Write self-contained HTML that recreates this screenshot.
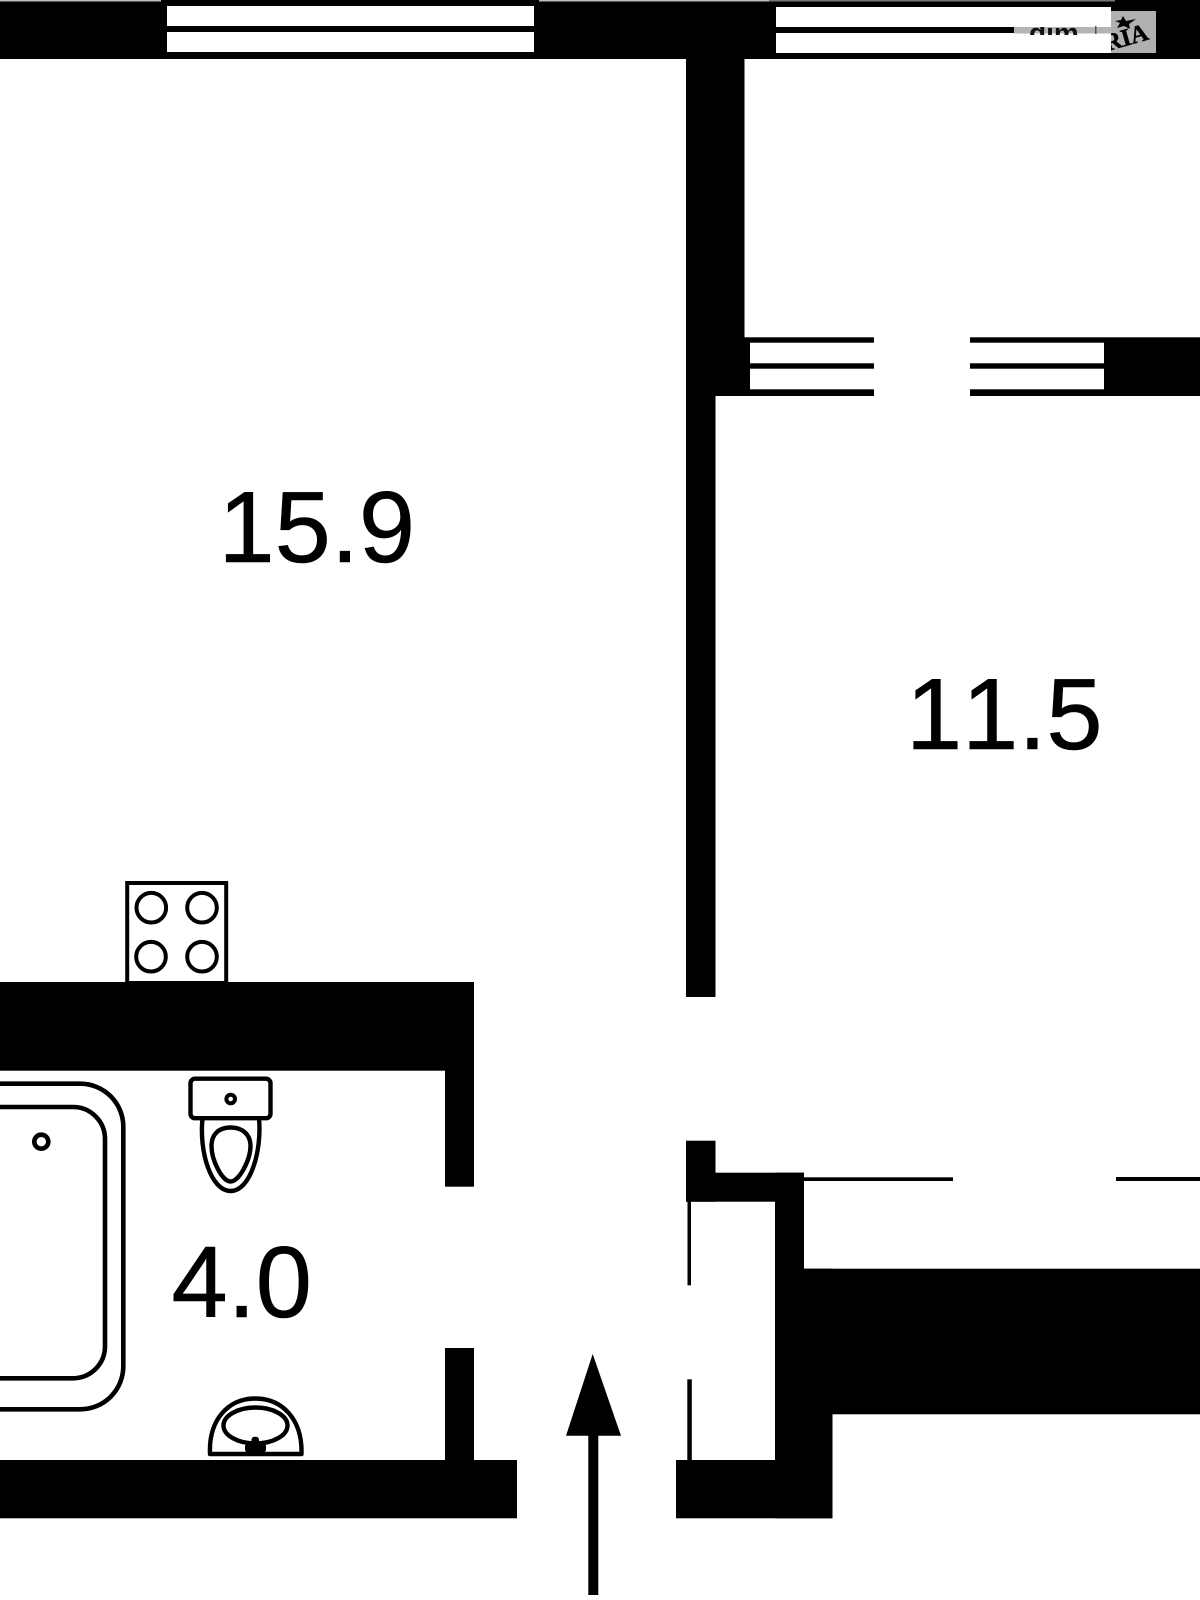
<!DOCTYPE html>
<html>
<head>
<meta charset="utf-8">
<style>
html,body{margin:0;padding:0;background:#fff}
svg{display:block}
text{font-family:"Liberation Sans",sans-serif;font-kerning:none}
</style>
</head>
<body>
<svg width="1200" height="1600" viewBox="0 0 1200 1600" xmlns="http://www.w3.org/2000/svg">
<rect width="1200" height="1600" fill="#fff"/>
<g fill="#000">
<!-- top wall -->
<rect x="0" y="0" width="1200" height="59"/>
<rect x="0" y="0" width="161" height="1.5" fill="#bbb"/>
<rect x="539" y="0" width="230" height="1.5" fill="#bbb"/>
<rect x="769" y="0" width="346" height="1.5" fill="#777"/>
<rect x="167" y="6" width="367" height="20" fill="#fff"/>
<rect x="167" y="32" width="367" height="20" fill="#fff"/>
<!-- watermark box -->
<rect x="1111" y="11" width="45" height="42" fill="#b0b0b0"/>
<text x="1103" y="45" font-size="24.5" font-weight="700" stroke="#000" stroke-width="0.5" transform="rotate(-16 1128 36)" style="font-family:'Liberation Serif',serif">RIA</text>
<polygon points="1123,16 1126,21 1136,19 1129,24 1130,29 1124,26 1117,28 1120,23 1115,21 1121,20"/>
<!-- window 2 -->
<rect x="776" y="7" width="335" height="20" fill="#fff"/>
<rect x="776" y="33" width="335" height="20" fill="#fff"/>
<rect x="1014" y="27" width="97" height="6.5" fill="#b4b4b4"/>
<svg x="1020" y="27" width="91" height="8" viewBox="1020 27 91 8"><text x="1029" y="42.5" font-size="28" font-weight="700" fill="#111">dim</text></svg>
<rect x="1095" y="26" width="1.5" height="8" fill="#555"/>
<!-- vertical wall upper -->
<rect x="686" y="59" width="58.5" height="337"/>
<rect x="686" y="396" width="29.5" height="601"/>
<!-- interior windows -->
<rect x="744" y="337.3" width="130" height="5.4"/>
<rect x="744" y="363.3" width="130" height="5.4"/>
<rect x="744" y="342" width="6" height="54"/>
<rect x="744" y="389.3" width="130" height="6.7"/>
<rect x="970" y="337.3" width="134" height="5.4"/>
<rect x="970" y="363.3" width="134" height="5.4"/>
<rect x="970" y="389.3" width="134" height="6.7"/>
<rect x="1104" y="337.3" width="96" height="58.7"/>
<!-- bathroom walls -->
<rect x="0" y="982" width="474" height="88.7"/>
<rect x="445" y="1040" width="29" height="146.7"/>
<rect x="445" y="1348" width="29" height="112"/>
<rect x="0" y="1460" width="517" height="58.3"/>
<!-- entry right -->
<rect x="686" y="1140.7" width="29.5" height="61"/>
<rect x="686" y="1172.7" width="118" height="29"/>
<rect x="775" y="1172.7" width="29" height="100"/>
<rect x="775" y="1268.7" width="425" height="145.6"/>
<rect x="775" y="1268.7" width="57.5" height="249.6"/>
<rect x="676" y="1460" width="156.5" height="58.3"/>
<rect x="687.5" y="1201" width="3.5" height="84.3"/>
<rect x="687.3" y="1379.3" width="4.5" height="81"/>
<rect x="804" y="1177.3" width="149" height="3.7"/>
<rect x="1116" y="1177" width="84" height="4"/>
<!-- arrow -->
<polygon points="592.7,1354 621,1435.7 566,1435.7"/>
<rect x="588.3" y="1435" width="10" height="160"/>
</g>
<g fill="none" stroke="#000">
<!-- stove -->
<rect x="127.2" y="883" width="99" height="100" stroke-width="4" fill="#fff"/>
<circle cx="151.3" cy="907.7" r="14.8" stroke-width="4"/>
<circle cx="202" cy="907.7" r="14.8" stroke-width="4"/>
<circle cx="151" cy="956.7" r="14.8" stroke-width="4"/>
<circle cx="202" cy="956.7" r="14.8" stroke-width="4"/>
<!-- toilet -->
<rect x="190.5" y="1078.7" width="80" height="39.5" rx="4.5" stroke-width="4.4"/>
<circle cx="230.7" cy="1099" r="4.3" stroke-width="4"/>
<path d="M202.5,1118.5 C199,1152 211,1191 230.7,1191 C250,1191 262,1152 259,1118.5" stroke-width="4.4"/>
<path d="M230.7,1127.5 C218,1127.5 211.5,1135 211.5,1146 C211.5,1160 222,1181.5 230.7,1181.5 C239,1181.5 250.5,1160 250.5,1146 C250.5,1135 243,1127.5 230.7,1127.5 Z" stroke-width="4.4"/>
<!-- bath -->
<rect x="-60" y="1083.7" width="183.3" height="325.6" rx="43" stroke-width="4.6"/>
<rect x="-60" y="1107" width="165" height="271.3" rx="32" stroke-width="4.6"/>
<circle cx="41.3" cy="1141.7" r="7" stroke-width="4.6"/>
<!-- sink -->
<path d="M210,1454 C208.5,1420 228,1398.5 255,1398.5 C283,1398.5 302.5,1420 301.5,1454 Z" stroke-width="4.4" stroke-linejoin="round"/>
<ellipse cx="255.5" cy="1425.5" rx="32" ry="18" stroke-width="4.4"/>
</g>
<g fill="#000">
<rect x="251.5" y="1436.7" width="7.5" height="18" rx="3"/>
<rect x="245" y="1443.5" width="21" height="9" rx="3"/>
</g>
<g fill="#000" font-size="101" stroke="#000" stroke-width="0.6">
<text x="218.5" y="562">15.9</text>
<text x="906" y="749">11.5</text>
<text x="171.5" y="1317">4.0</text>
</g>
</svg>
</body>
</html>
